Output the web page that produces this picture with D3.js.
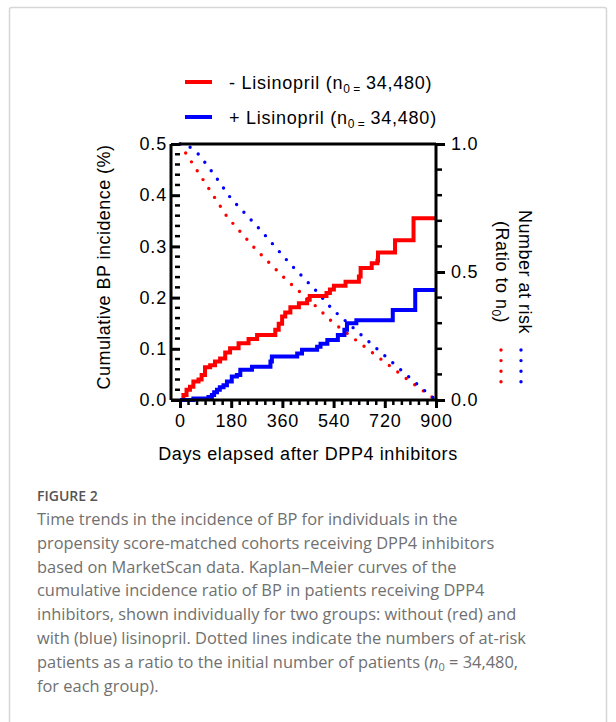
<!DOCTYPE html>
<html>
<head>
<meta charset="utf-8">
<script src="https://cdn.jsdelivr.net/npm/d3@7"></script>
<style>
html,body{margin:0;padding:0;background:#fff;}
svg{display:block;}
</style>
</head>
<body>
<svg id="chart" width="616" height="722"></svg>
<script>
// ---------- data ----------
const xTicks = [0, 180, 360, 540, 720, 900];
const yLeftTicks = [0, 0.1, 0.2, 0.3, 0.4, 0.5];
const yRightTicks = [0, 0.5, 1.0];

// Kaplan-Meier cumulative incidence (%), without lisinopril (red)
const redDays = [0, 12, 23, 35, 47, 65, 76, 88, 106, 123, 141, 159, 176, 206, 241, 271, 335, 347, 359, 370, 388, 418, 447, 456, 515, 527, 541, 582, 629, 635, 674, 694, 696, 756, 821, 900];
const redVals = [0, 0.010, 0.020, 0.026, 0.036, 0.040, 0.049, 0.064, 0.068, 0.075, 0.081, 0.093, 0.101, 0.111, 0.119, 0.127, 0.137, 0.149, 0.163, 0.171, 0.181, 0.189, 0.196, 0.203, 0.209, 0.216, 0.223, 0.231, 0.241, 0.258, 0.267, 0.272, 0.288, 0.312, 0.355, 0.355];

// Kaplan-Meier cumulative incidence (%), with lisinopril (blue)
const blueDays = [0, 47, 100, 112, 120, 130, 140, 153, 165, 182, 200, 212, 253, 318, 323, 412, 429, 482, 494, 518, 555, 578, 587, 620, 748, 827, 900];
const blueVals = [0, 0.003, 0.006, 0.010, 0.015, 0.020, 0.025, 0.029, 0.036, 0.046, 0.049, 0.059, 0.065, 0.075, 0.085, 0.091, 0.098, 0.104, 0.110, 0.117, 0.127, 0.137, 0.150, 0.156, 0.176, 0.215, 0.215];

// Number at risk, ratio to n0 (dotted)
const redRiskDays = [0, 20, 166, 265, 372, 483, 537, 687, 806, 900];
const redRiskVals = [1.0, 0.965, 0.715, 0.590, 0.471, 0.361, 0.303, 0.176, 0.075, 0.0];
const blueRiskDays = [0, 37, 67, 113, 180, 230, 283, 382, 485, 535, 674, 785, 868, 900];
const blueRiskVals = [1.0, 0.987, 0.958, 0.891, 0.786, 0.727, 0.664, 0.538, 0.419, 0.355, 0.218, 0.109, 0.029, 0.0];

const legendLabels = ["- Lisinopril", "+ Lisinopril"];
const n0Text = "34,480";

// ---------- drawing ----------
const RED = "#ff0000", BLUE = "#0000ff";
const svg = d3.select("#chart");
const FONT = "'Liberation Sans', Arial, Helvetica, sans-serif";

// card border
svg.append("rect").attr("x", 9.5).attr("y", 7.5).attr("width", 597).attr("height", 730)
  .attr("fill", "#fff").attr("stroke", "#d6d6d6").attr("stroke-width", 1.5).attr("rx", 2);

const x = d3.scaleLinear().domain([0, 900]).range([180, 436]);
const yL = d3.scaleLinear().domain([0, 0.5]).range([400, 144]);
const yR = d3.scaleLinear().domain([0, 1]).range([400, 144]);

const zip = (a, b) => a.map((d, i) => [d, b[i]]);

// dotted at-risk lines
const riskLine = d3.line().x(d => x(d[0])).y(d => yR(d[1]));
[[redRiskDays, redRiskVals, RED], [blueRiskDays, blueRiskVals, BLUE]].forEach(([dd, vv, c]) => {
  svg.append("path").attr("d", riskLine(zip(dd, vv)))
    .attr("fill", "none").attr("stroke", c).attr("stroke-width", 3.4)
    .attr("stroke-linecap", "round").attr("stroke-dasharray", "0 10.6");
});

// KM step curves
const kmLine = d3.line().x(d => x(d[0])).y(d => yL(d[1])).curve(d3.curveStepAfter);
[[redDays, redVals, RED], [blueDays, blueVals, BLUE]].forEach(([dd, vv, c]) => {
  svg.append("path").attr("d", kmLine(zip(dd, vv)))
    .attr("fill", "none").attr("stroke", c).attr("stroke-width", 4)
    .attr("stroke-linejoin", "miter");
});

// frame: top line
svg.append("line").attr("x1", 180).attr("x2", 436).attr("y1", 144).attr("y2", 144)
  .attr("stroke", "#000").attr("stroke-width", 3);

// left axis
const leftAxis = d3.axisLeft(yL).tickValues(yLeftTicks).tickFormat(d3.format(".1f")).tickSize(9).tickPadding(4);
const gL = svg.append("g").attr("transform", "translate(180,0)").call(leftAxis);
const leftMinor = d3.range(0, 0.5001, 0.02).filter(v => yLeftTicks.every(t => Math.abs(t - v) > 1e-6));
gL.selectAll(".minor").data(leftMinor).enter().append("line")
  .attr("x1", 0).attr("x2", -5).attr("y1", d => yL(d)).attr("y2", d => yL(d))
  .attr("stroke", "#000").attr("stroke-width", 2.5);

// right axis
const rightAxis = d3.axisRight(yR).tickValues(yRightTicks).tickFormat(d3.format(".1f")).tickSize(9).tickPadding(6);
const gR = svg.append("g").attr("transform", "translate(436,0)").call(rightAxis);
const rightMinor = d3.range(0, 1.0001, 0.1).filter(v => yRightTicks.every(t => Math.abs(t - v) > 1e-6));
gR.selectAll(".minor").data(rightMinor).enter().append("line")
  .attr("x1", 0).attr("x2", 6).attr("y1", d => yR(d)).attr("y2", d => yR(d))
  .attr("stroke", "#000").attr("stroke-width", 2.5);

// bottom axis
const bottomAxis = d3.axisBottom(x).tickValues(xTicks).tickFormat(d3.format("d")).tickSize(8).tickPadding(6);
const gB = svg.append("g").attr("transform", "translate(0,400)").call(bottomAxis);
const bottomMinor = d3.range(0, 900.001, 30).filter(v => xTicks.indexOf(v) < 0);
gB.selectAll(".minor").data(bottomMinor).enter().append("line")
  .attr("x1", d => x(d)).attr("x2", d => x(d)).attr("y1", 0).attr("y2", 5)
  .attr("stroke", "#000").attr("stroke-width", 2.5);

[gL, gR, gB].forEach(g => {
  g.select(".domain").attr("stroke", "#000").attr("stroke-width", 3);
  g.selectAll(".tick line").attr("stroke", "#000").attr("stroke-width", 3);
  g.selectAll(".tick text").attr("font-family", FONT).attr("font-size", 18)
    .attr("fill", "#000").attr("letter-spacing", 0.8);
});
gL.select(".domain").attr("d", "M-9,400V144");
gR.select(".domain").attr("d", "M0,400.5V143.5");
gB.select(".domain").attr("d", "M171,0H437.5");

// axis titles
svg.append("text").attr("transform", "translate(110,267) rotate(-90)")
  .attr("text-anchor", "middle").attr("font-family", FONT).attr("font-size", 18)
  .attr("letter-spacing", 0.45)
  .text("Cumulative BP incidence (%)");
svg.append("text").attr("x", 308).attr("y", 460).attr("text-anchor", "middle")
  .attr("font-family", FONT).attr("font-size", 18).attr("letter-spacing", 0.6)
  .text("Days elapsed after DPP4 inhibitors");

// right title (rotated clockwise)
const rt = svg.append("g").attr("transform", "translate(519,272) rotate(90)");
rt.append("text").attr("x", 0).attr("y", 0).attr("text-anchor", "middle")
  .attr("font-family", FONT).attr("font-size", 18).attr("letter-spacing", 0.5).text("Number at risk");
const rt2 = rt.append("text").attr("x", 0).attr("y", 23).attr("text-anchor", "middle")
  .attr("font-family", FONT).attr("font-size", 18).attr("letter-spacing", 0.5);
rt2.append("tspan").text("(Ratio to n");
rt2.append("tspan").attr("font-size", 12).attr("dy", 4).text("0");
rt2.append("tspan").attr("dy", -4).text(")");

// dotted legend samples
[[501, RED], [521, BLUE]].forEach(([xx, c]) => {
  svg.append("path").attr("d", `M${xx},350V382`)
    .attr("stroke", c).attr("stroke-width", 3.4).attr("stroke-linecap", "round")
    .attr("stroke-dasharray", "0 10.6");
});

// top legend
[[82, RED, legendLabels[0]], [117, BLUE, legendLabels[1]]].forEach(([yy, c, lab]) => {
  svg.append("line").attr("x1", 185).attr("x2", 212).attr("y1", yy).attr("y2", yy)
    .attr("stroke", c).attr("stroke-width", 4);
  const t = svg.append("text").attr("x", 229).attr("y", yy + 6.5)
    .attr("font-family", FONT).attr("font-size", 18).attr("letter-spacing", 0.75);
  t.append("tspan").text(lab + " (n");
  t.append("tspan").attr("font-size", 12).attr("dy", 4).attr("letter-spacing", 0).text("0 =");
  t.append("tspan").attr("dy", -4).text(" " + n0Text + ")");
});

// caption
const CF = "'Open Sans', 'Noto Sans', sans-serif";
svg.append("text").attr("x", 37).attr("y", 501).attr("font-family", CF).attr("font-size", 14)
  .attr("fill", "#555").attr("font-weight", 600).text("FIGURE 2");
const capLines = [
  "Time trends in the incidence of BP for individuals in the",
  "propensity score-matched cohorts receiving DPP4 inhibitors",
  "based on MarketScan data. Kaplan\u2013Meier curves of the",
  "cumulative incidence ratio of BP in patients receiving DPP4",
  "inhibitors, shown individually for two groups: without (red) and",
  "with (blue) lisinopril. Dotted lines indicate the numbers of at-risk",
  null,
  "for each group)."
];
capLines.forEach((l, i) => {
  const t = svg.append("text").attr("x", 37).attr("y", 525 + i * 23.8)
    .attr("font-family", CF).attr("font-size", 16.4).attr("fill", "#707070");
  if (l) t.text(l);
  else {
    t.append("tspan").text("patients as a ratio to the initial number of patients (");
    t.append("tspan").attr("font-style", "italic").text("n");
    t.append("tspan").attr("font-size", 11).attr("dy", 3).text("0");
    t.append("tspan").attr("dy", -3).text(" = 34,480,");
  }
});
</script>
</body>
</html>
